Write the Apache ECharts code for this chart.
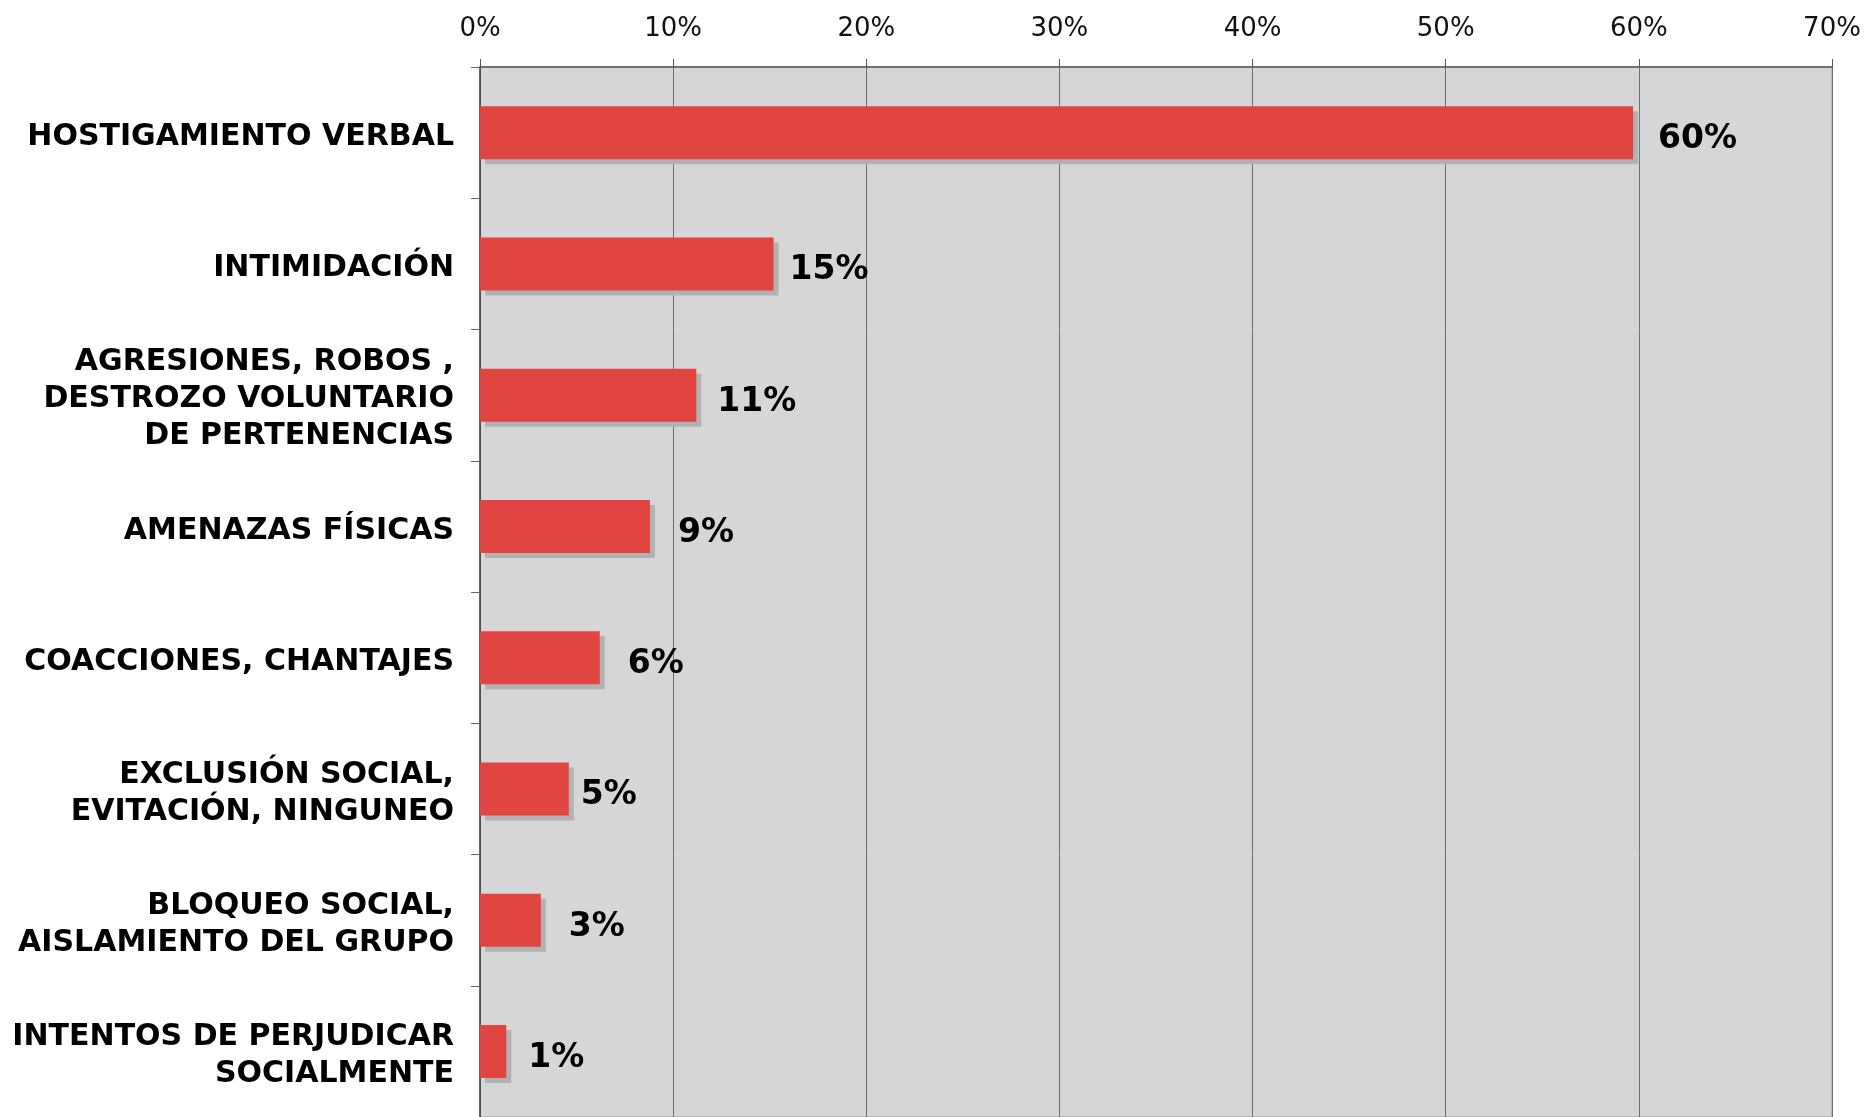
<!DOCTYPE html>
<html lang="es">
<head>
    <meta charset="UTF-8">
    <title>Tipos de acoso</title>
    <style>
        html, body { margin: 0; padding: 0; background: #fff; }
    </style>
</head>
<body>
    <div id="chart" style="width: 1868px;height:1117px;"></div>
    <script src="https://cdn.jsdelivr.net/npm/echarts@6/dist/echarts.min.js"></script>
    <script type="text/javascript">
       // datos
       var categories = [
           'HOSTIGAMIENTO VERBAL',
           'INTIMIDACIÓN',
           'AGRESIONES, ROBOS ,\nDESTROZO VOLUNTARIO\nDE PERTENENCIAS',
           'AMENAZAS FÍSICAS',
           'COACCIONES, CHANTAJES',
           'EXCLUSIÓN SOCIAL,\nEVITACIÓN, NINGUNEO',
           'BLOQUEO SOCIAL,\nAISLAMIENTO DEL GRUPO',
           'INTENTOS DE PERJUDICAR\nSOCIALMENTE'
       ];
       var values = [59.7, 15.2, 11.2, 8.8, 6.2, 4.6, 3.15, 1.36];
       var axisMax = 70;
       var axisStep = 10;
       // separación de cada etiqueta respecto a su barra (en el original no es uniforme)
       var labelGap = [25, 16, 21, 28, 28, 12, 28, 22];

       var myChart = echarts.init(document.getElementById('chart'));
       var option = {
           animation: false,
           grid: {
               left: 480,
               top: 67,
               width: 1352,
               height: 1056,
               show: true,
               backgroundColor: '#d6d6d6',
               borderColor: '#9a9a9a',
               borderWidth: 1
           },
           xAxis: {
               type: 'value',
               position: 'top',
               min: 0,
               max: axisMax,
               interval: axisStep,
               axisLine: { show: true, lineStyle: { color: '#555', width: 1.5 } },
               axisTick: { show: true, length: 8, lineStyle: { color: '#555' } },
               axisLabel: {
                   formatter: '{value}%',
                   fontFamily: 'DejaVu Sans',
                   fontSize: 26,
                   color: '#111',
                   margin: 25
               },
               splitLine: { show: true, lineStyle: { color: '#6e6e6e', width: 1 } }
           },
           yAxis: {
               type: 'category',
               inverse: true,
               data: categories,
               axisLine: { show: true, lineStyle: { color: '#444', width: 1.5 } },
               axisTick: { show: true, length: 9, interval: 0, lineStyle: { color: '#666' } },
               axisLabel: {
                   fontFamily: 'DejaVu Sans',
                   fontWeight: 'bold',
                   fontSize: 30,
                   lineHeight: 37,
                   color: '#000',
                   align: 'right',
                   margin: 26,
                   // línea vacía arriba para bajar un poco el texto
                   formatter: function (v) { return '{s|}\n' + v; },
                   rich: { s: { height: 9, lineHeight: 9, fontSize: 1 } }
               }
           },
           series: [{
               type: 'bar',
               data: values.map(function (v, i) {
                   return { value: v, label: { distance: labelGap[i] } };
               }),
               barWidth: 53,
               itemStyle: {
                   color: '#e04541',
                   shadowColor: '#b2b2b2',
                   shadowBlur: 0,
                   shadowOffsetX: 5,
                   shadowOffsetY: 5
               },
               label: {
                   show: true,
                   position: 'right',
                   offset: [0, 7],
                   formatter: function (p) { return Math.round(p.value) + '%'; },
                   fontFamily: 'DejaVu Sans',
                   fontWeight: 'bold',
                   fontSize: 33,
                   color: '#000'
               }
           }]
       };
       myChart.setOption(option);
    </script>
</body>
</html>
